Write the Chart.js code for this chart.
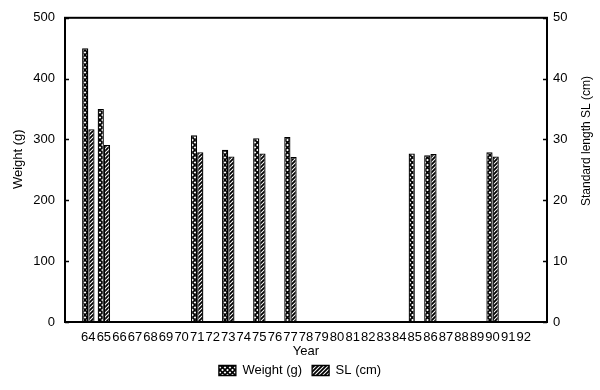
<!DOCTYPE html>
<html>
<head>
<meta charset="utf-8">
<script src="https://cdn.jsdelivr.net/npm/chart.js@4/dist/chart.umd.min.js"></script>
<style>
  html, body { margin: 0; padding: 0; background: #fff; }
  #wrap { width: 600px; height: 390px; }
</style>
</head>
<body>
<div id="wrap"><canvas id="c" width="600" height="390"></canvas></div>
<script>
// ---- Data ----
const years = ['64','65','66','67','68','69','70','71','72','73','74','75','76','77','78','79','80','81','82','83','84','85','86','87','88','89','90','91','92'];
const weightG = [450, 350, null, null, null, null, null, 307, null, 283, null, 302, null, 304, null, null, null, null, null, null, null, 277, 274, null, null, null, 279, null, null];
const slCm    = [31.7, 29.1, null, null, null, null, null, 27.9, null, 27.2, null, 27.7, null, 27.1, null, null, null, null, null, null, null, null, 27.6, null, null, null, 27.2, null, null];
const weightTicks = [0, 100, 200, 300, 400, 500];
const slTicks = [0, 10, 20, 30, 40, 50];

// blank slot on each side of the year axis
const xLabels = [''].concat(years, ['']);
const pad = arr => [null].concat(arr, [null]);

const FONT = '"Liberation Sans", Arial, Helvetica, sans-serif';

function makePattern(kind) {
  const s = kind === 'cross' ? 5 : 4;
  const c = document.createElement('canvas');
  c.width = s; c.height = s;
  const g = c.getContext('2d');
  g.fillStyle = '#fff';
  g.fillRect(0, 0, s, s);
  g.strokeStyle = '#000';
  g.lineWidth = kind === 'cross' ? 1.6 : 1.8;
  g.beginPath();
  if (kind === 'cross') {
    g.moveTo(0, 0); g.lineTo(s, s);
    g.moveTo(s, 0); g.lineTo(0, s);
  } else {
    g.moveTo(0, s); g.lineTo(s, 0);
    g.moveTo(-1, 1); g.lineTo(1, -1);
    g.moveTo(s - 1, s + 1); g.lineTo(s + 1, s - 1);
  }
  g.stroke();
  return g.createPattern(c, 'repeat');
}

const frameAndTitles = {
  id: 'frameAndTitles',
  afterDraw(chart) {
    const { ctx, chartArea: { left, right, top, bottom } } = chart;
    ctx.save();
    ctx.strokeStyle = '#000';
    ctx.lineWidth = 2;
    ctx.strokeRect(left, top, right - left, bottom - top);
    ctx.lineWidth = 1.5;
    const sy = chart.scales.y, sy1 = chart.scales.y1;
    ctx.beginPath();
    weightTicks.forEach(v => { const p = Math.round(sy.getPixelForValue(v)) + 0.5; ctx.moveTo(left, p); ctx.lineTo(left + 4, p); });
    slTicks.forEach(v => { const p = Math.round(sy1.getPixelForValue(v)) + 0.5; ctx.moveTo(right - 4, p); ctx.lineTo(right, p); });
    ctx.stroke();
    // axis titles
    ctx.fillStyle = '#000';
    ctx.textAlign = 'center';
    ctx.textBaseline = 'middle';
    ctx.font = '13px ' + FONT;
    const h = bottom - top;
    ctx.save();
    ctx.translate(18, top + h * 0.465);
    ctx.rotate(-Math.PI / 2);
    ctx.fillText('Weight (g)', 0, 0);
    ctx.restore();
    ctx.save();
    ctx.font = '12px ' + FONT;
    ctx.translate(587, top + h * 0.405);
    ctx.rotate(-Math.PI / 2);
    ctx.fillText('Standard length SL (cm)', 0, 0);
    ctx.restore();
    ctx.restore();
  }
};

Chart.defaults.font.family = FONT;
Chart.defaults.color = '#000';

new Chart(document.getElementById('c'), {
  type: 'bar',
  data: {
    labels: xLabels,
    datasets: [
      {
        label: 'Weight (g)',
        data: pad(weightG),
        yAxisID: 'y',
        backgroundColor: makePattern('cross'),
        borderColor: '#000',
        borderWidth: 1.3,
        categoryPercentage: 0.8,
        barPercentage: 1.0
      },
      {
        label: 'SL (cm)',
        data: pad(slCm),
        yAxisID: 'y1',
        backgroundColor: makePattern('diag'),
        borderColor: '#000',
        borderWidth: 1.3,
        categoryPercentage: 0.8,
        barPercentage: 1.0
      }
    ]
  },
  options: {
    responsive: false,
    animation: false,
    layout: { padding: { top: 15, bottom: 3, left: 0, right: 0 } },
    plugins: {
      legend: {
        position: 'bottom',
        labels: {
          boxWidth: 17,
          boxHeight: 10,
          padding: 10,
          font: { size: 13 },
          color: '#000'
        }
      },
      tooltip: { enabled: false }
    },
    scales: {
      x: {
        grid: { display: false, drawTicks: false },
        border: { display: false },
        ticks: { autoSkip: false, maxRotation: 0, minRotation: 0, padding: 8, font: { size: 13 }, color: '#000' },
        title: { display: true, text: 'Year', font: { size: 13, lineHeight: 0.4 }, color: '#000', padding: { top: 0, bottom: 0 } },
        afterFit(scale) { scale.height = 32; }
      },
      y: {
        position: 'left',
        min: 0, max: 500,
        grid: { display: false, drawTicks: false },
        border: { display: false },
        ticks: { stepSize: 100, padding: 10, font: { size: 13 }, color: '#000' },
        afterFit(scale) { scale.width = 65; }
      },
      y1: {
        position: 'right',
        min: 0, max: 50,
        grid: { display: false, drawTicks: false },
        border: { display: false },
        ticks: { stepSize: 10, padding: 6, font: { size: 13 }, color: '#000' },
        afterFit(scale) { scale.width = 53; }
      }
    }
  },
  plugins: [frameAndTitles]
});
</script>
</body>
</html>
